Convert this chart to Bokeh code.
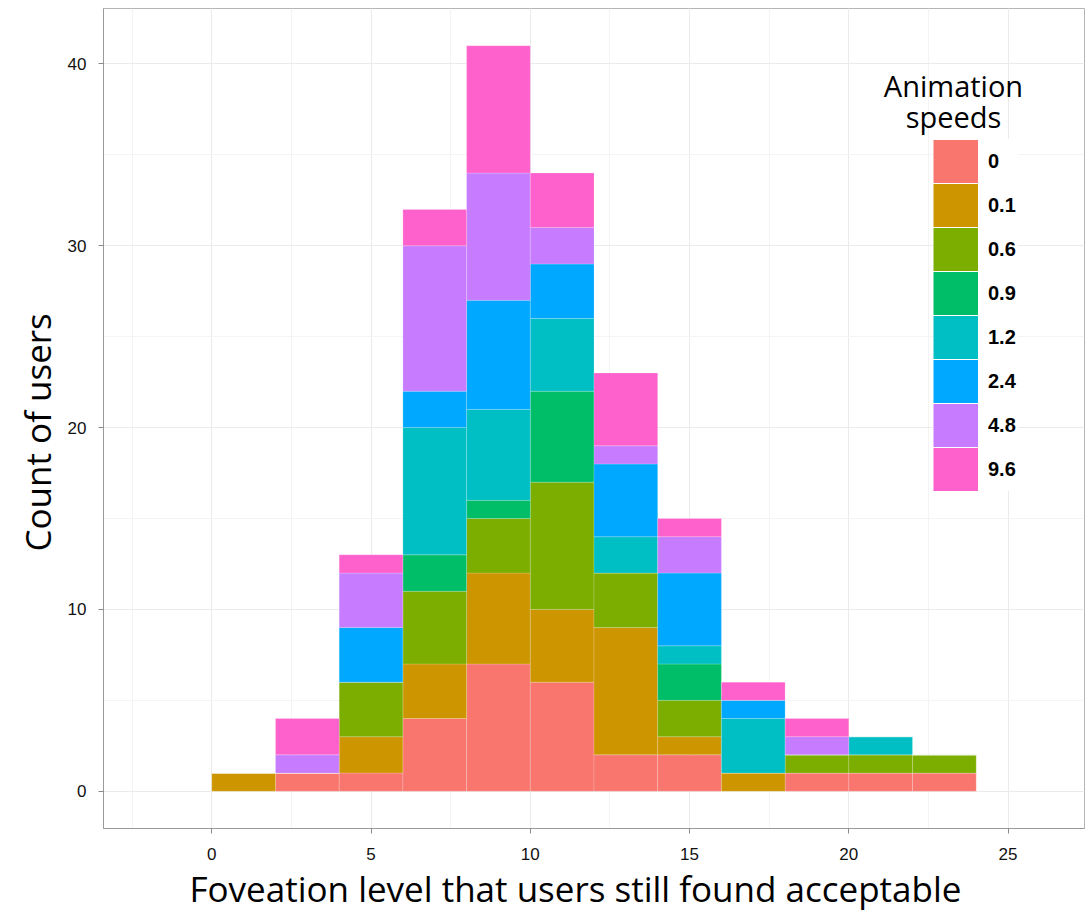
import numpy as np
from bokeh.plotting import figure
from bokeh.models import (ColumnDataSource, Range1d, SingleIntervalTicker, Label,
                          Legend, LegendItem, Title)
from bokeh.embed import file_html
from bokeh.resources import INLINE

# Histogram bins (width 2), left edges
bin_left = [0, 2, 4, 6, 8, 10, 12, 14, 16, 18, 20, 22]
bin_width = 2

# Users per bin for each animation speed
speeds = ["0", "0.1", "0.6", "0.9", "1.2", "2.4", "4.8", "9.6"]
count_0 = [0, 1, 1, 4, 7, 6, 2, 2, 0, 1, 1, 1]
count_01 = [1, 0, 2, 3, 5, 4, 7, 1, 1, 0, 0, 0]
count_06 = [0, 0, 3, 4, 3, 7, 3, 2, 0, 1, 1, 1]
count_09 = [0, 0, 0, 2, 1, 5, 0, 2, 0, 0, 0, 0]
count_12 = [0, 0, 0, 7, 5, 4, 2, 1, 3, 0, 1, 0]
count_24 = [0, 0, 3, 2, 6, 3, 4, 4, 1, 0, 0, 0]
count_48 = [0, 1, 3, 8, 7, 2, 1, 2, 0, 1, 0, 0]
count_96 = [0, 2, 1, 2, 7, 3, 4, 1, 1, 1, 0, 0]

colors = ["#F8766D", "#CD9600", "#7CAE00", "#00BE67",
          "#00BFC4", "#00A9FF", "#C77CFF", "#FF61CC"]

series = [count_0, count_01, count_06, count_09, count_12, count_24, count_48, count_96]
keys = ["s%d" % i for i in range(len(speeds))]

data = {"x": [b + bin_width / 2 for b in bin_left]}
for k, vals in zip(keys, series):
    data[k] = vals
source = ColumnDataSource(data)

p = figure(width=1086, height=913, output_backend="svg", toolbar_location=None,
           x_range=Range1d(-3.4, 27.4), y_range=Range1d(-2.05, 43.05),
           min_border_left=103, min_border_right=2, min_border_top=8,
           min_border_bottom=85)

p.vbar_stack(keys, x="x", width=bin_width, source=source, color=colors,
             line_color="white", line_alpha=0.18, line_width=1)

# Axes
p.xaxis.ticker = SingleIntervalTicker(interval=5, num_minor_ticks=2)
p.yaxis.ticker = SingleIntervalTicker(interval=10, num_minor_ticks=2)
for ax in (p.xaxis[0], p.yaxis[0]):
    ax.axis_line_color = "#9a9a9a"
    ax.major_tick_line_color = "#8a8a8a"
    ax.major_tick_out = 5
    ax.major_tick_in = 0
    ax.minor_tick_line_color = None
    ax.major_label_text_font = "Liberation Sans"
    ax.major_label_text_font_size = "17px"
    ax.major_label_text_color = "#111111"
p.xaxis.major_label_standoff = 14
p.yaxis.major_label_standoff = 12

# Axis titles
title_style = dict(text_font="Open Sans", text_font_size="35px",
                   text_font_style="normal", text_color="#000000", align="left")
p.add_layout(Title(text="Foveation level that users still found acceptable",
                   offset=86, standoff=0, **title_style), "below")
p.add_layout(Title(text="Count of users", offset=277, standoff=8, **title_style), "left")

# Grid
p.xgrid.grid_line_color = "#ebebeb"
p.ygrid.grid_line_color = "#ebebeb"
p.xgrid.minor_grid_line_color = "#f4f4f4"
p.ygrid.minor_grid_line_color = "#f4f4f4"
p.outline_line_color = "#b5b5b5"
p.background_fill_color = "white"

# Legend keys: thick butt-capped line swatches (no visible data) give solid,
# touching colour blocks
items = []
for lbl, c in zip(speeds, colors):
    swatch = p.line(x=np.array([np.nan]), y=np.array([np.nan]), line_color=c,
                    line_width=43, line_cap="butt")
    items.append(LegendItem(label=lbl, renderers=[swatch]))

leg = Legend(items=items, location=(830, 337))
leg.glyph_width = 45
leg.glyph_height = 44
leg.label_height = 44
leg.spacing = 0
leg.padding = 6
leg.margin = 0
leg.label_standoff = 10
leg.label_width = 30
leg.label_text_font = "Liberation Sans"
leg.label_text_font_style = "bold"
leg.label_text_font_size = "20px"
leg.label_text_color = "#000000"
leg.border_line_color = None
leg.background_fill_color = "white"
leg.background_fill_alpha = 1.0
p.add_layout(leg, "center")

for txt, yy in (("Animation", 743), ("speeds", 712)):
    p.add_layout(Label(x=850, y=yy, x_units="screen", y_units="screen", text=txt,
                       text_align="center", text_baseline="alphabetic",
                       text_font="Open Sans", text_font_size="29px",
                       text_color="#000000"))

open("out.html", "w").write(file_html(p, INLINE))
